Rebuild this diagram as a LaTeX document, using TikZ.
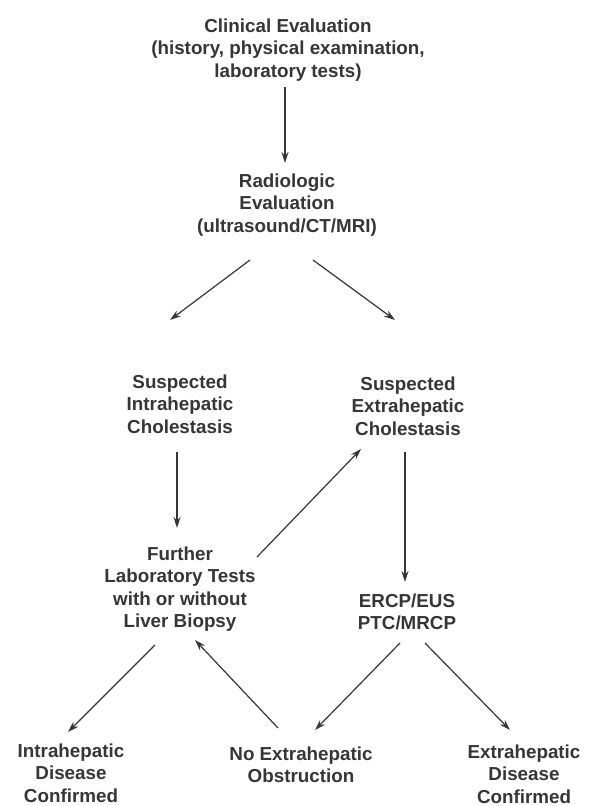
\documentclass[tikz,border=0pt]{standalone}
\usepackage{fontspec}
\setmainfont{Liberation Sans}
\usetikzlibrary{arrows.meta}
\definecolor{ink}{HTML}{363636}
\begin{document}
\begin{tikzpicture}[x=1pt,y=-1pt,
  lbl/.style={align=center,inner sep=0pt,text=ink,
    font=\bfseries\fontsize{18.8}{22.5}\selectfont},
  arr/.style={draw=ink,line width=1.2pt,-{Stealth[length=11pt,width=7pt]}}]
\useasboundingbox[fill=white] (0,0) rectangle (601,806);

% flowchart steps
\node[lbl] (clin) at (288,50) {Clinical Evaluation\\(history, physical examination,\\laboratory tests)};
\node[lbl] (rad) at (287,205) {Radiologic\\Evaluation\\(ultrasound/CT/MRI)};
\node[lbl] (si) at (180,404) {Suspected\\Intrahepatic\\Cholestasis};
\node[lbl] (se) at (408,406) {Suspected\\Extrahepatic\\Cholestasis};
\node[lbl] (fu) at (180,589) {Further\\Laboratory Tests\\with or without\\Liver Biopsy};
\node[lbl] (er) at (407,612) {ERCP/EUS\\PTC/MRCP};
\node[lbl] (id) at (71,773) {Intrahepatic\\Disease\\Confirmed};
\node[lbl] (no) at (301,765) {No Extrahepatic\\Obstruction};
\node[lbl] (ed) at (524,774) {Extrahepatic\\Disease\\Confirmed};

% connectors
\draw[arr] ([shift={(-3,37)}]clin.center) -- ([shift={(-2,-42)}]rad.center);
\draw[arr] ([shift={(-37,55)}]rad.center) -- ([shift={(-10,-84)}]si.center);
\draw[arr] ([shift={(26,55)}]rad.center) -- ([shift={(-13,-86)}]se.center);
\draw[arr] ([shift={(-3,48)}]si.center) -- ([shift={(-3,-61)}]fu.center);
\draw[arr] ([shift={(-3,46)}]se.center) -- ([shift={(-2,-30)}]er.center);
\draw[arr] ([shift={(77,-32)}]fu.center) -- ([shift={(-47,43)}]se.center);
\draw[arr] ([shift={(-25,56)}]fu.center) -- ([shift={(-3,-41)}]id.center);
\draw[arr] ([shift={(-23,-37)}]no.center) -- ([shift={(15,51)}]fu.center);
\draw[arr] ([shift={(-7,31)}]er.center) -- ([shift={(14,-35)}]no.center);
\draw[arr] ([shift={(18,31)}]er.center) -- ([shift={(-14,-44)}]ed.center);
\end{tikzpicture}
\end{document}
